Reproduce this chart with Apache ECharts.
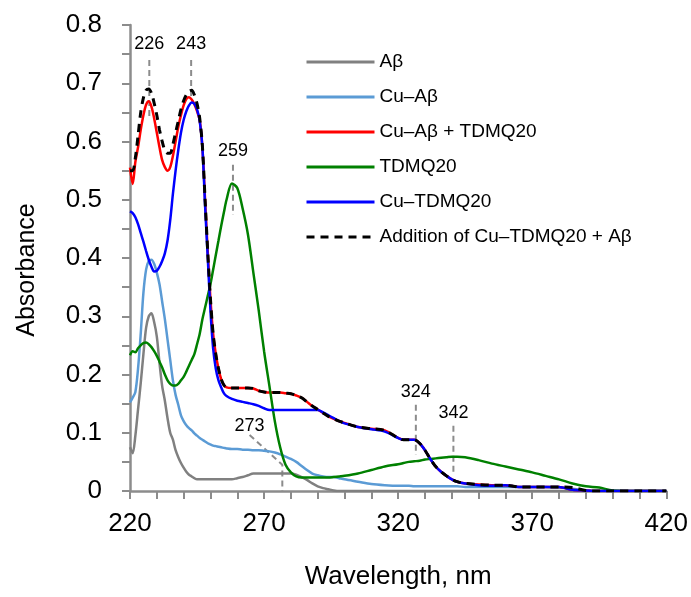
<!DOCTYPE html>
<html>
<head>
<meta charset="utf-8">
<script src="https://cdn.jsdelivr.net/npm/echarts@6/dist/echarts.min.js"></script>
<style>
html,body{margin:0;padding:0;background:#fff;}
#chart{width:691px;height:597px;}
</style>
</head>
<body>
<div id="chart"></div>
<script>
const wavelength = [220,221,222,223,224,225,226,227,228,229,230,231,232,233,234,235,236,237,238,239,240,241,242,243,244,245,246,247,248,249,250,251,252,253,254,255,256,258,260,262,264,266,268,270,272,274,276,278,280,282,284,286,288,290,292,294,296,298,300,305,310,315,320,322,324,326,328,330,332,334,336,338,340,342,345,350,355,360,365,370,375,380,385,390,395,400,410,420];

const abeta = [0.075,0.065,0.095,0.14,0.185,0.235,0.28,0.30,0.305,0.29,0.265,0.22,0.18,0.155,0.125,0.10,0.088,0.07,0.058,0.048,0.04,0.033,0.028,0.025,0.022,0.02,0.02,0.02,0.02,0.02,0.02,0.02,0.02,0.02,0.02,0.02,0.02,0.02,0.022,0.024,0.027,0.03,0.03,0.03,0.03,0.03,0.03,0.03,0.03,0.028,0.024,0.019,0.013,0.008,0.005,0.003,0.001,0,0,0,0,0,0,0,0,0,0,0,0,0,0,0,0,0,0,0,0,0,0,0,0,0,0,0,0,0,0,0];

const cuAbeta = [0.152,0.16,0.17,0.21,0.27,0.34,0.38,0.395,0.397,0.39,0.375,0.355,0.325,0.295,0.26,0.225,0.19,0.165,0.148,0.13,0.12,0.113,0.108,0.104,0.099,0.095,0.091,0.088,0.085,0.082,0.08,0.078,0.077,0.076,0.075,0.074,0.073,0.072,0.072,0.071,0.071,0.07,0.07,0.069,0.068,0.066,0.063,0.059,0.055,0.05,0.043,0.036,0.03,0.027,0.025,0.024,0.024,0.022,0.02,0.016,0.012,0.01,0.009,0.009,0.009,0.008,0.008,0.008,0.008,0.008,0.008,0.008,0.008,0.008,0.007,0.007,0.007,0.007,0.007,0.007,0.007,0.006,0.004,0.001,0,0,0,0];

const cuAbetaTdmq = [0.555,0.527,0.565,0.59,0.62,0.645,0.663,0.669,0.66,0.64,0.615,0.59,0.568,0.556,0.55,0.556,0.575,0.6,0.625,0.645,0.662,0.673,0.676,0.672,0.664,0.652,0.636,0.59,0.5,0.41,0.33,0.27,0.235,0.21,0.192,0.182,0.178,0.177,0.177,0.177,0.177,0.176,0.172,0.17,0.169,0.169,0.169,0.168,0.167,0.164,0.16,0.153,0.146,0.14,0.134,0.128,0.124,0.12,0.117,0.11,0.107,0.104,0.091,0.088,0.088,0.088,0.082,0.07,0.055,0.042,0.033,0.026,0.02,0.016,0.013,0.011,0.01,0.01,0.007,0.007,0.007,0.007,0.002,0.001,0,0,0,0];

const tdmq20 = [0.233,0.24,0.238,0.245,0.25,0.254,0.255,0.252,0.247,0.24,0.232,0.222,0.212,0.2,0.19,0.184,0.181,0.181,0.184,0.19,0.196,0.205,0.215,0.225,0.235,0.252,0.27,0.295,0.315,0.335,0.355,0.38,0.405,0.43,0.455,0.478,0.5,0.528,0.52,0.485,0.44,0.375,0.31,0.24,0.18,0.12,0.075,0.045,0.032,0.025,0.023,0.023,0.023,0.023,0.023,0.023,0.024,0.025,0.026,0.03,0.036,0.042,0.046,0.048,0.05,0.051,0.052,0.054,0.055,0.056,0.057,0.058,0.059,0.059,0.058,0.053,0.047,0.042,0.037,0.032,0.026,0.02,0.013,0.008,0.006,0.001,0,0];

const cuTdmq = [0.48,0.477,0.47,0.458,0.443,0.428,0.412,0.397,0.385,0.377,0.378,0.385,0.395,0.408,0.43,0.465,0.51,0.55,0.585,0.615,0.637,0.652,0.662,0.667,0.665,0.655,0.635,0.59,0.49,0.4,0.31,0.245,0.21,0.19,0.178,0.168,0.163,0.158,0.155,0.153,0.151,0.149,0.146,0.142,0.139,0.139,0.139,0.139,0.139,0.139,0.139,0.139,0.139,0.139,0.135,0.13,0.125,0.12,0.116,0.11,0.106,0.102,0.091,0.088,0.088,0.088,0.082,0.07,0.055,0.042,0.033,0.026,0.02,0.016,0.013,0.01,0.009,0.01,0.007,0.007,0.007,0.007,0.002,0.001,0,0,0,0];

const additionSum = [0.55,0.55,0.572,0.61,0.65,0.675,0.688,0.69,0.683,0.666,0.645,0.62,0.6,0.585,0.58,0.58,0.595,0.615,0.635,0.655,0.67,0.68,0.686,0.688,0.68,0.665,0.64,0.592,0.5,0.41,0.33,0.27,0.235,0.21,0.192,0.182,0.178,0.177,0.177,0.177,0.177,0.176,0.172,0.17,0.169,0.169,0.169,0.168,0.167,0.164,0.16,0.153,0.146,0.14,0.134,0.128,0.124,0.12,0.117,0.11,0.107,0.104,0.091,0.088,0.088,0.088,0.082,0.07,0.055,0.042,0.033,0.026,0.02,0.016,0.013,0.011,0.01,0.01,0.007,0.007,0.007,0.007,0.006,0.001,0,0,0,0];

const seriesNames = ['A\u03b2','Cu\u2013A\u03b2','Cu\u2013A\u03b2 + TDMQ20','TDMQ20','Cu\u2013TDMQ20','Addition of Cu\u2013TDMQ20 + A\u03b2'];

const xTicks = [220,270,320,370,420];
const yTicks = [0,0.1,0.2,0.3,0.4,0.5,0.6,0.7,0.8];

// peak annotations: label, x position, dashed line top/bottom
const annLabels = ['226','243','259','324','342'];
const annX = [227.2,242.8,258.4,326.6,340.6];
const annTop = [0.74,0.74,0.56,0.148,0.112];
const annBottom = [0.637,0.672,0.474,0.062,0.030];
const annLabelY = [0.767,0.767,0.583,0.170,0.134];
// the 273 annotation has a bent leader line
const ann273X = [264.6,276.8,276.8];
const ann273Y = [0.096,0.045,0];
const ann273Label = {text:'273', x:264.6, y:0.111};

const FONT = '"Liberation Sans", Arial, sans-serif';
const pairs = ys => wavelength.map((w,i)=>[w, ys[i]]);

const colors = ['#808080','#5b9bd5','#ff0000','#008000','#0000ff','#000000'];
const values = [abeta, cuAbeta, cuAbetaTdmq, tdmq20, cuTdmq, additionSum];

const series = values.map((v,i)=>({
  name: seriesNames[i],
  type: 'line',
  data: pairs(v),
  symbol: 'none',
  smooth: 0.3,
  z: 3 + i,
  lineStyle: {color: colors[i], width: i===5 ? 3 : 2.5, type: i===5 ? [8,6] : 'solid'},
  itemStyle: {color: colors[i]}
}));

const annStyle = {color:'#8c8c8c', width:2, type:[6,4]};
annLabels.forEach((lab,i)=>{
  series.push({
    type:'line', silent:true, symbol:'none', z:2,
    data:[[annX[i],annTop[i]],[annX[i],annBottom[i]]],
    lineStyle: annStyle
  });
});
series.push({
  type:'line', silent:true, symbol:'none', z:2,
  data: ann273X.map((x,i)=>[x, ann273Y[i]]),
  lineStyle: annStyle
});
const labelData = annLabels.map((l,i)=>[annX[i], annLabelY[i], l]);
labelData.push([ann273Label.x, ann273Label.y, ann273Label.text]);
series.push({
  type:'scatter', silent:true, symbolSize:0, z:10,
  itemStyle:{color:'#000', opacity:1},
  data: labelData,
  label:{show:true, position:'inside', opacity:1, formatter: p=>p.value[2], color:'#000', textBorderWidth:0, textBorderColor:'transparent', fontSize:18, fontFamily:FONT}
});

const chart = echarts.init(document.getElementById('chart'), null, {renderer:'canvas'});
chart.setOption({
  animation:false,
  backgroundColor:'#fff',
  grid:{left:130, right:23, top:25, bottom:106, containLabel:false},
  legend:{
    data: seriesNames,
    orient:'vertical', left:300, top:47,
    itemWidth:68, itemHeight:14, itemGap:15,
    itemStyle:{opacity:0, borderWidth:0},
    lineStyle:{width:3},
    textStyle:{fontSize:19, fontFamily:FONT, color:'#000', lineHeight:20}
  },
  xAxis:{
    type:'value', min:xTicks[0], max:xTicks[xTicks.length-1], interval:50,
    name:'Wavelength, nm', nameLocation:'middle', nameGap:73,
    nameTextStyle:{fontSize:26, fontFamily:FONT, color:'#000'},
    axisLine:{lineStyle:{color:'#8c8c8c', width:2.5}},
    axisTick:{show:true, length:8, lineStyle:{color:'#8c8c8c', width:2}},
    minorTick:{show:true, splitNumber:5, length:8, lineStyle:{color:'#8c8c8c', width:2}},
    axisLabel:{fontSize:26, fontFamily:FONT, color:'#000', margin:20},
    splitLine:{show:false}
  },
  yAxis:{
    type:'value', min:yTicks[0], max:yTicks[yTicks.length-1], interval:0.1,
    name:'Absorbance', nameLocation:'middle', nameGap:90,
    nameTextStyle:{fontSize:25, fontFamily:FONT, color:'#000', padding:[0,24,0,0]},
    axisLine:{show:true, lineStyle:{color:'#8c8c8c', width:2.5}},
    axisTick:{show:true, length:8, lineStyle:{color:'#8c8c8c', width:2}},
    minorTick:{show:true, splitNumber:2, length:8, lineStyle:{color:'#8c8c8c', width:2}},
    axisLabel:{fontSize:26, fontFamily:FONT, color:'#000', margin:28},
    splitLine:{show:false}
  },
  series: series
});
</script>
</body>
</html>
